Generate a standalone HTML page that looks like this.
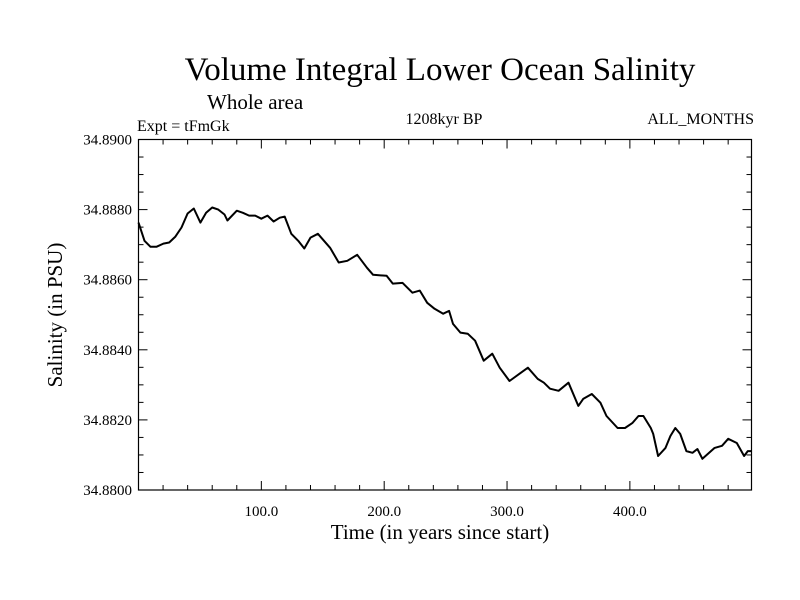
<!DOCTYPE html>
<html><head><meta charset="utf-8"><style>
body{margin:0;background:#fff}
svg{display:block;font-family:"Liberation Serif",serif}
</style></head><body>
<svg id="chart" width="800" height="600" viewBox="0 0 800 600">
<text x="440" y="80" font-size="33" text-anchor="middle">Volume Integral Lower Ocean Salinity</text>
<text x="207" y="109" font-size="21">Whole area</text>
<text x="137" y="131" font-size="16">Expt = tFmGk</text>
<text x="444" y="124" font-size="16" text-anchor="middle">1208kyr BP</text>
<text x="754" y="124" font-size="16" text-anchor="end">ALL_MONTHS</text>
<text x="440" y="539" font-size="21" text-anchor="middle">Time (in years since start)</text>
<text transform="translate(62,315) rotate(-90)" font-size="21" text-anchor="middle">Salinity (in PSU)</text>
<g id="axes"></g>
<path id="line" fill="none" stroke="#000" stroke-width="2" stroke-linejoin="round"/>
<rect x="138.5" y="139.5" width="613" height="350.5" fill="none" stroke="#000" stroke-width="1.2"/>
</svg>
<script>
const years=[0,4.9,9.8,14.6,20.3,25,30,35,40,45,50.4,55,60,65,70,72.4,80,85,90,95,100,105,110,115,119,124.4,130,135,140,146,156,163,170,178,186,191,202,207,215,223,229,235,241,248,252.8,256,262,268,274,281,288,294,302,311,317,325,330,335,342,350,358,362,369,376,381,390,396,402,407,411,417,419,423,429,433,437,441,446,451,455,459,469,475,480,487,493,496,499];
const salinity=[34.88763,34.88711,34.88694,34.88694,34.88703,34.88706,34.88723,34.88749,34.88789,34.88803,34.88763,34.88791,34.88806,34.88800,34.88786,34.88769,34.88797,34.88791,34.88783,34.88783,34.88774,34.88783,34.88766,34.88777,34.88780,34.88731,34.88711,34.88689,34.88720,34.88731,34.88691,34.88649,34.88654,34.88671,34.88634,34.88614,34.88611,34.88589,34.88591,34.88563,34.88569,34.88534,34.88517,34.88503,34.88511,34.88474,34.88449,34.88446,34.88426,34.88369,34.88389,34.88349,34.88311,34.88334,34.88349,34.88317,34.88306,34.88289,34.88283,34.88306,34.88240,34.88260,34.88274,34.88249,34.88211,34.88177,34.88177,34.88191,34.88211,34.88211,34.88177,34.88160,34.88097,34.88120,34.88154,34.88177,34.88160,34.88111,34.88106,34.88117,34.88089,34.88120,34.88126,34.88146,34.88134,34.88097,34.88111,34.88111];
const xTickValues=[100,200,300,400];
const xTickLabels=["100.0","200.0","300.0","400.0"];
const yTickValues=[34.880,34.882,34.884,34.886,34.888,34.890];
const yTickLabels=["34.8800","34.8820","34.8840","34.8860","34.8880","34.8900"];
const X0=138.5,X1=751.5,Y0=490,Y1=139.5,xmin=0,xmax=499,ymin=34.880,ymax=34.890;
const sx=v=>X0+(v-xmin)/(xmax-xmin)*(X1-X0);
const sy=v=>Y0-(v-ymin)/(ymax-ymin)*(Y0-Y1);
const NS="http://www.w3.org/2000/svg";
const g=document.getElementById('axes');
function ln(x1,y1,x2,y2,name){const l=document.createElementNS(NS,'line');
l.setAttribute('x1',x1);l.setAttribute('y1',y1);l.setAttribute('x2',x2);l.setAttribute('y2',y2);
l.setAttribute('stroke','#000');l.setAttribute('stroke-width','1');


g.appendChild(l);}
function tx(x,y,s,anchor,name){const t=document.createElementNS(NS,'text');
t.setAttribute('x',x);t.setAttribute('y',y);t.setAttribute('font-size','15');t.setAttribute('text-anchor',anchor);t.textContent=s;


g.appendChild(t);}
for(let v=20;v<xmax;v+=20){const x=sx(v),L=(v%100===0)?9:5;
ln(x,Y0,x,Y0-L,'x-tick');ln(x,Y1,x,Y1+L,'x-tick-top');}
for(let v=ymin+0.0005;v<ymax-0.0001;v+=0.0005){const y=sy(v),maj=Math.abs(Math.round(v/0.002)*0.002-v)<1e-7,L=maj?9:5;
ln(X0,y,X0+L,y,'y-tick');ln(X1,y,X1-L,y,'y-tick-right');}
xTickValues.forEach((v,i)=>tx(sx(v),516,xTickLabels[i],'middle','x-tick-label'));
yTickValues.forEach((v,i)=>tx(132,sy(v)+5,yTickLabels[i],'end','y-tick-label'));
document.getElementById('line').setAttribute('d',years.map((t,i)=>(i?'L':'M')+sx(t).toFixed(1)+','+sy(salinity[i]).toFixed(1)).join(''));
</script>
</body></html>
